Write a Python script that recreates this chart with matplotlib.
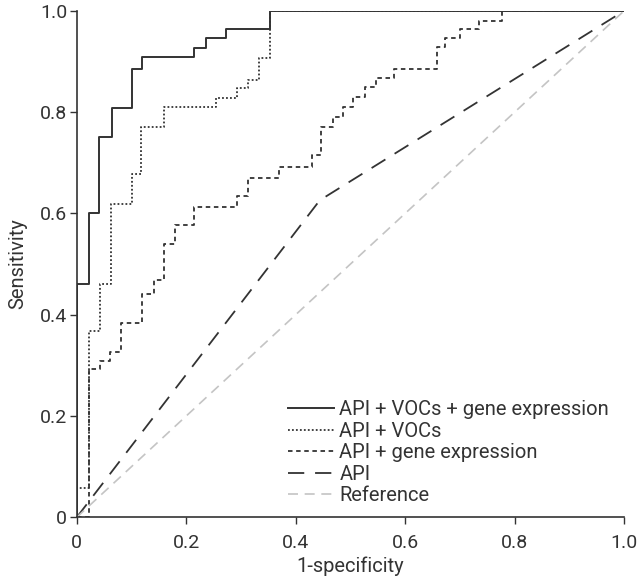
import matplotlib
matplotlib.use('Agg')
import matplotlib.pyplot as plt

plt.rcParams['font.family'] = ['Roboto', 'DejaVu Sans']

# ROC curves: (1-specificity, sensitivity) at each step
full_fpr = [0.0, 0.0, 0.022, 0.040, 0.064, 0.100, 0.119, 0.214, 0.236, 0.272, 0.353, 1.0]
full_tpr = [0.0, 0.460, 0.600, 0.751, 0.808, 0.885, 0.909, 0.927, 0.947, 0.964, 1.0, 1.0]

vocs_fpr = [0.0, 0.0, 0.022, 0.042, 0.062, 0.100, 0.117, 0.159, 0.254, 0.292, 0.313, 0.333, 0.353, 1.0]
vocs_tpr = [0.0, 0.057, 0.368, 0.460, 0.619, 0.678, 0.771, 0.810, 0.828, 0.848, 0.864, 0.907, 1.0, 1.0]

gene_fpr = [0.0, 0.022, 0.042, 0.060, 0.080, 0.119, 0.141, 0.159, 0.179, 0.214, 0.292, 0.313,
            0.369, 0.430, 0.446, 0.468, 0.486, 0.505, 0.527, 0.547, 0.580, 0.658, 0.673, 0.700,
            0.735, 0.777, 1.0]
gene_tpr = [0.0, 0.292, 0.308, 0.326, 0.383, 0.441, 0.468, 0.540, 0.577, 0.613, 0.634, 0.670,
            0.692, 0.715, 0.771, 0.791, 0.810, 0.830, 0.850, 0.868, 0.885, 0.929, 0.947, 0.964,
            0.980, 1.0, 1.0]

api_fpr = [0.0, 0.444, 1.0]
api_tpr = [0.0, 0.626, 1.0]

ref_fpr = [0.0, 1.0]
ref_tpr = [0.0, 1.0]

labels = ['API + VOCs + gene expression', 'API + VOCs', 'API + gene expression', 'API', 'Reference']
ticks = [0, 0.2, 0.4, 0.6, 0.8, 1.0]
tick_labels = ['0', '0.2', '0.4', '0.6', '0.8', '1.0']

dark = '#333333'

fig = plt.figure(figsize=(6.4, 5.76), dpi=100)
ax = fig.add_axes([0.120, 0.102, 0.855, 0.879])

ax.plot(full_fpr, full_tpr, drawstyle='steps-post', color=dark, lw=1.4, label=labels[0])
ax.plot(vocs_fpr, vocs_tpr, drawstyle='steps-post', color=dark, lw=1.3,
        linestyle=(0, (1, 1.2)), label=labels[1])
ax.plot(gene_fpr, gene_tpr, drawstyle='steps-post', color=dark, lw=1.3,
        linestyle=(0, (2.5, 2)), label=labels[2])
ax.plot(api_fpr, api_tpr, color=dark, lw=1.3, linestyle=(0, (9, 6)), label=labels[3])
ax.plot(ref_fpr, ref_tpr, color='#c4c4c4', lw=1.2, linestyle=(0, (6, 4)), label=labels[4])

ax.set_xlim(0, 1)
ax.set_ylim(0, 1)
ax.set_xticks(ticks)
ax.set_xticklabels(tick_labels)
ax.set_yticks(ticks)
ax.set_yticklabels(tick_labels)
ax.tick_params(direction='out', length=5, width=1, colors=dark, labelsize=14)
ax.tick_params(axis='y', pad=2)
ax.tick_params(axis='x', pad=7)
for side in ['top', 'right']:
    ax.spines[side].set_visible(False)
for side in ['left', 'bottom']:
    ax.spines[side].set_linewidth(1.2)
    ax.spines[side].set_color(dark)

ax.set_xlabel('1-specificity', fontsize=14.5, color=dark, labelpad=3)
ax.set_ylabel('Sensitivity', fontsize=14.5, color=dark, labelpad=9)

leg = ax.legend(loc='lower right', bbox_to_anchor=(0.995, 0.0), frameon=False,
                fontsize=14.5, handlelength=2.3, labelspacing=0.12, handletextpad=0.25,
                borderaxespad=0.2)
for t in leg.get_texts():
    t.set_color(dark)

fig.savefig('out.png', dpi=100)
